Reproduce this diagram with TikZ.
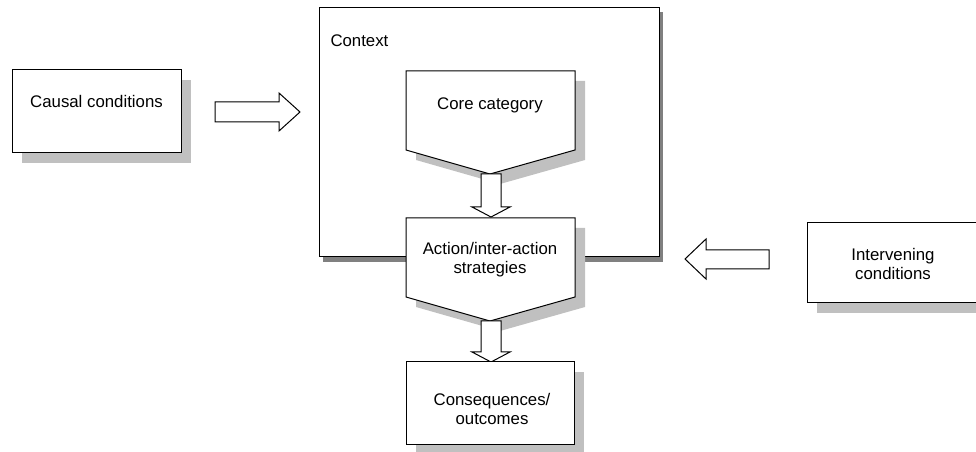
\documentclass[tikz,border=0pt]{standalone}
\usepackage{fontspec}
\setmainfont{Liberation Sans}
\definecolor{shadowgray}{HTML}{C0C0C0}
\definecolor{ctxgray}{HTML}{808080}
\begin{document}
\begin{tikzpicture}[x=0.75pt,y=-0.75pt,line width=0.75pt,
  box/.style={draw=black,fill=white,line join=miter},
  shad/.style={fill=shadowgray,draw=none},
  lbl/.style={font=\fontsize{12.6}{14.25}\selectfont,align=center,anchor=base,inner sep=0pt}]
\useasboundingbox (0,0) rectangle (976,452);
\clip (0,0) rectangle (976,452);

% Context frame
\fill[ctxgray] (323,12) rectangle (663,262);
\draw[box] (319,8) rectangle (659,257);
\node[lbl,anchor=base west] (ctx) at (330,47) {Context};

% Causal conditions
\fill[shad] (22,80) rectangle (191,163);
\draw[box] (12,70) rectangle (181,153);
\node[lbl] (causal) at (96.5,108) {Causal conditions};
\draw[box] (215,102) -- (279,102) -- (279,93) -- (300,112) -- (279,131) -- (279,122) -- (215,122) -- cycle;

% Core category
\fill[shad] (416,81) -- (585,81) -- (585,160) -- (500,184) -- (416,160) -- cycle;
\draw[box] (406,71) -- (575,71) -- (575,150) -- (490,174) -- (406,150) -- cycle;
\node[lbl] (core) at (490,110) {Core category};
\draw[box] (481,174) -- (501,174) -- (501,207) -- (510,207) -- (491,217) -- (472,207) -- (481,207) -- cycle;

% Action/inter-action strategies
\fill[shad] (416,228) -- (585,228) -- (585,307) -- (500,331) -- (416,307) -- cycle;
\draw[box] (406,218) -- (575,218) -- (575,297) -- (490,321) -- (406,297) -- cycle;
\node[lbl] (action) at (490,274) {Action/inter-action\\strategies};
\draw[box] (481,321) -- (501,321) -- (501,352) -- (510,352) -- (491,362) -- (472,352) -- (481,352) -- cycle;

% Consequences
\fill[shad] (416,372) rectangle (584,455);
\draw[box] (406,362) rectangle (574,445);
\node[lbl] (cons) at (492,425) {Consequences/\\outcomes};

% Intervening conditions
\fill[shad] (817,233) rectangle (1010,313);
\draw[box] (807,223) rectangle (1000,303);
\node[lbl] (interv) at (893,280) {Intervening\\conditions};
\draw[box] (769,250) -- (769,269) -- (706,269) -- (706,279) -- (685,259) -- (706,239) -- (706,250) -- cycle;
\end{tikzpicture}
\end{document}
